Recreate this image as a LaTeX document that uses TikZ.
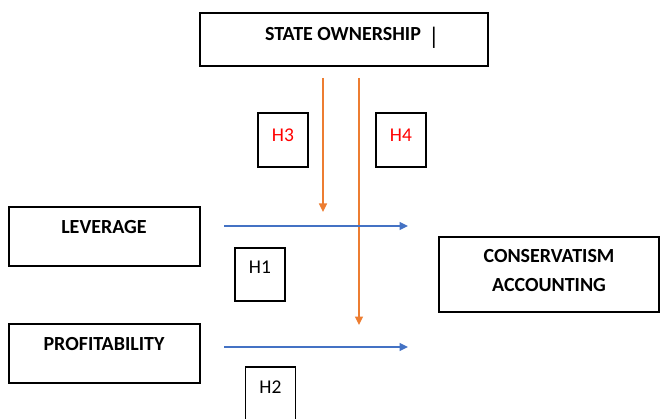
\documentclass[tikz,border=0pt]{standalone}
\usepackage{fontspec}
\setmainfont{Carlito}
\usetikzlibrary{arrows.meta,positioning}

\definecolor{arrowblue}{RGB}{68,114,196}
\definecolor{arroworange}{RGB}{237,125,49}

\begin{document}
\begin{tikzpicture}[x=1pt,y=-1pt,>={Triangle[length=8.5pt,width=8pt]},
          box/.style={draw,line width=1.3pt,inner sep=0pt},
          lbl/.style={font=\fontsize{20}{24}\selectfont\bfseries,inner sep=0pt},
          hyp/.style={font=\fontsize{19.5}{24}\selectfont,inner sep=0pt},
          link/.style={->,line width=1.3pt}]
        \useasboundingbox (0,0) rectangle (660,419);
        % boxes
        \node[box,minimum width=288pt,minimum height=53pt] (state) at (344,39.5) {};
        \node[box,minimum width=191pt,minimum height=59pt] (lev) at (104.5,236.5) {};
        \node[box,minimum width=191pt,minimum height=59pt] (prof) at (104.5,353.5) {};
        \node[box,minimum width=220pt,minimum height=75pt] (cons) at (549,274.5) {};
        \node[box,minimum width=50pt,minimum height=54pt] (h3) at (283,140) {};
        \node[box,minimum width=50pt,minimum height=54pt] (h4) at (401,140) {};
        \node[box,minimum width=50pt,minimum height=53pt] (h1) at (260,274.5) {};
        \node[box,minimum width=50pt,minimum height=53pt] (h2) at (270.5,393.5) {};
        % texts
        \node[lbl] (statetxt) at (343,34) {STATE OWNERSHIP};
        \node[hyp,font=\fontsize{24}{24}\selectfont] (cursor) at (434,37.5) {|};
        \node[lbl] (levtxt) at (104,227) {LEVERAGE};
        \node[lbl] (proftxt) at (104,344) {PROFITABILITY};
        \node[lbl,align=center,font=\fontsize{20}{29}\selectfont\bfseries] (constxt) at (549,270.5) {CONSERVATISM\\ACCOUNTING};
        \node[hyp,red] at (283,135) {H3};
        \node[hyp,red] at (401,135) {H4};
        \node[hyp] at (260,267.5) {H1};
        \node[hyp] at (270.5,387) {H2};
        % arrows
        \coordinate (lev-from) at (224,226);   \coordinate (lev-to) at (408,226);
        \coordinate (prof-from) at (224,347);  \coordinate (prof-to) at (408,347);
        \coordinate (so-a) at (323,78);        \coordinate (so-a-to) at (323,212);
        \coordinate (so-b) at (359,78);        \coordinate (so-b-to) at (359,325);
        \draw[link,arroworange] (so-a)--(so-a-to);
        \draw[link,arroworange] (so-b)--(so-b-to);
        \draw[link,arrowblue] (lev-from)--(lev-to);
        \draw[link,arrowblue] (prof-from)--(prof-to);
      \end{tikzpicture}
\end{document}
